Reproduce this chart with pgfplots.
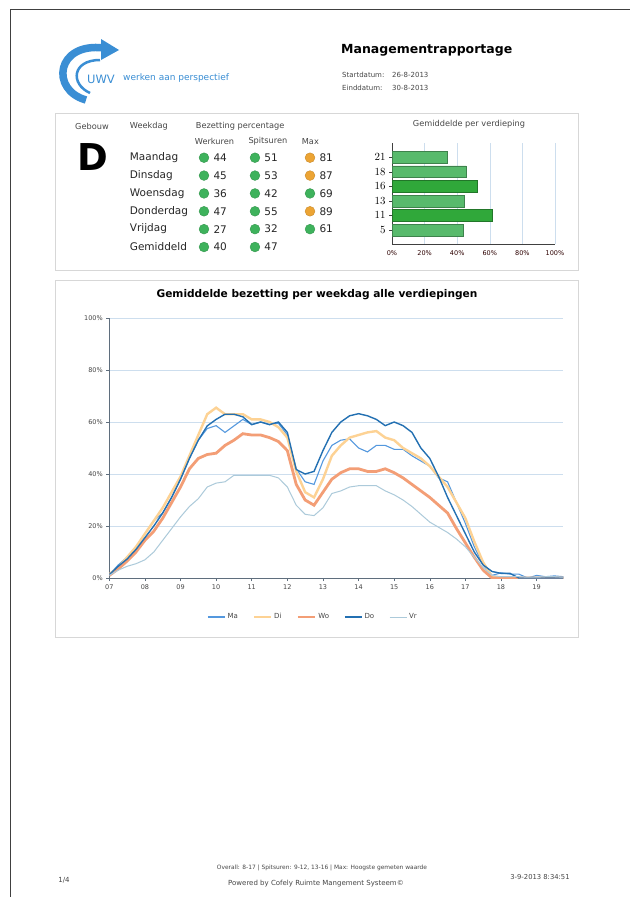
\documentclass[border=0pt]{standalone}
\usepackage{pgfplots}
\pgfplotsset{compat=1.18}
\usepackage{fontspec}
\setmainfont{DejaVu Sans}
\definecolor{cma}{RGB}{84,152,222}
\definecolor{cdi}{RGB}{253,210,148}
\definecolor{cwo}{RGB}{243,158,118}
\definecolor{cdo}{RGB}{35,112,178}
\definecolor{cvr}{RGB}{172,202,218}
\definecolor{gridb}{RGB}{205,222,238}
\definecolor{axisc}{RGB}{95,110,125}
\definecolor{txtg}{RGB}{70,70,70}
\definecolor{dotg}{RGB}{62,178,92}
\definecolor{doto}{RGB}{236,164,52}
\definecolor{barl}{RGB}{88,186,108}
\definecolor{bard}{RGB}{48,168,58}
\definecolor{uwv}{RGB}{58,142,212}
\definecolor{boxc}{RGB}{215,215,215}
\newcommand\fs[1]{\fontsize{#1bp}{#1bp}\selectfont}

\pgfplotstableread{
x ma di wo do vr
7.00 1.3 1.5 1.0 1.3 1.0
7.25 5.0 4.0 3.5 4.5 3.0
7.50 8.0 8.0 6.5 7.3 4.5
7.75 12.0 12.0 10.0 11.0 5.5
8.00 17.0 17.0 14.5 15.5 7.0
8.25 22.0 22.0 18.0 20.0 10.0
8.50 25.0 27.0 23.0 25.0 14.5
8.75 31.0 33.0 29.0 31.0 19.0
9.00 38.0 39.0 35.0 38.0 23.5
9.25 46.0 47.0 42.0 46.0 27.5
9.50 53.0 55.0 46.0 53.0 30.5
9.75 57.5 63.0 47.5 58.5 35.0
10.00 58.6 65.5 48.0 61.0 36.5
10.25 56.0 63.0 51.0 63.0 37.0
10.50 58.5 63.0 53.0 63.0 39.5
10.75 61.0 63.0 55.5 62.0 39.5
11.00 59.0 61.0 55.0 59.0 39.5
11.25 60.0 61.0 55.0 60.0 39.5
11.50 59.0 60.0 54.0 59.0 39.5
11.75 59.5 58.0 52.5 60.0 38.5
12.00 55.0 54.0 49.0 56.0 35.0
12.25 42.0 41.0 36.0 41.7 28.0
12.50 37.0 33.0 30.0 40.0 24.5
12.75 36.0 31.0 28.0 41.0 24.0
13.00 45.0 38.0 33.0 49.0 27.0
13.25 51.0 47.0 38.0 56.0 32.5
13.50 53.0 51.0 40.5 60.0 33.5
13.75 53.5 54.0 42.0 62.4 35.0
14.00 50.0 55.0 42.0 63.2 35.5
14.25 48.5 56.0 41.0 62.4 35.5
14.50 51.0 56.5 41.0 61.0 35.5
14.75 51.0 54.0 42.0 58.6 33.5
15.00 49.5 53.0 40.5 60.0 32.0
15.25 49.5 50.0 38.5 58.6 30.0
15.50 47.0 48.0 36.0 56.0 27.5
15.75 45.0 46.0 33.5 50.0 24.5
16.00 43.0 43.0 31.0 46.0 21.5
16.25 38.5 39.0 28.0 39.0 19.5
16.50 37.0 35.0 25.0 31.0 17.5
16.75 29.0 29.0 19.0 24.0 15.0
17.00 21.0 23.0 13.5 17.0 12.0
17.25 12.0 14.0 8.0 10.0 8.0
17.50 5.0 6.0 3.0 5.0 4.0
17.75 1.0 0.5 0.0 2.5 1.0
18.00 2.0 0.0 0.0 1.8 0.5
18.25 1.5 0.0 0.0 1.8 0.5
18.50 1.5 0.0 0.0 0.0 0.5
18.75 0.0 0.0 0.0 0.0 0.3
19.00 1.0 0.0 0.0 0.0 0.3
19.25 0.5 0.0 0.0 0.0 0.5
19.50 0.8 0.0 0.0 0.0 0.5
19.75 0.5 0.0 0.0 0.0 0.3
}\linedata

\begin{document}
\begin{tikzpicture}
\path[use as bounding box] (0,0) rectangle (630bp,-897bp);
\fill[white] (0,0) rectangle (630bp,-897bp);
\begin{scope}[x=1bp,y=-1bp]
% page frame
\draw[black!75, line width=0.7bp] (10.5,897) -- (10.5,9.5) -- (630,9.5);
% logo
\draw[uwv, line width=7.5bp] (86,100) .. controls (50,90) and (56,42) .. (104,48);
\fill[uwv] (101,39) -- (119,50) -- (101,60) -- cycle;
\draw[uwv, line width=2.5bp] (90,93) .. controls (70,84) and (72,60) .. (100,60);
\node[anchor=west, font=\fs{11.5}, text=uwv, inner sep=0] at (87,79) {UWV};
\node[anchor=west, font=\fs{9}, text=uwv, inner sep=0] at (123,78) {werken aan perspectief};
% header
\node[anchor=west, font=\bfseries\fs{12.5}, inner sep=0] at (341,50.5) {Managementrapportage};
\node[anchor=west, font=\fs{7}, text=txtg, inner sep=0] at (342,75) {Startdatum:};
\node[anchor=west, font=\fs{7}, text=txtg, inner sep=0] at (392,75) {26-8-2013};
\node[anchor=west, font=\fs{7}, text=txtg, inner sep=0] at (342,87.5) {Einddatum:};
\node[anchor=west, font=\fs{7}, text=txtg, inner sep=0] at (392,87.5) {30-8-2013};
% boxes
\draw[boxc, line width=0.8bp] (55.5,113.5) rectangle (578,270);
\draw[boxc, line width=0.8bp] (55.5,280.5) rectangle (578,637);
% table headers
\node[anchor=west, font=\fs{8.2}, text=txtg, inner sep=0] at (75,126) {Gebouw};
\node[anchor=west, font=\fs{8.2}, text=txtg, inner sep=0] at (129.7,126) {Weekdag};
\node[anchor=west, font=\fs{8.2}, text=txtg, inner sep=0] at (195.7,126) {Bezetting percentage};
\node[anchor=west, font=\fs{8.2}, text=txtg, inner sep=0] at (194.7,141.7) {Werkuren};
\node[anchor=west, font=\fs{8.2}, text=txtg, inner sep=0] at (248.3,141.7) {Spitsuren};
\node[anchor=west, font=\fs{8.2}, text=txtg, inner sep=0] at (301.7,141.7) {Max};
\node[font=\bfseries\fs{37}, inner sep=0] at (93,157) {D};
\foreach \d/\yy in {Maandag/157.7, Dinsdag/175.6, Woensdag/193.4, Donderdag/211.3, Vrijdag/229.1, Gemiddeld/247}
  {\node[anchor=west, font=\fs{10.5}, text=black!85, inner sep=0] at (129.7,\yy) {\d};}
% bar chart title
\node[font=\fs{8.2}, text=txtg, inner sep=0] at (469,124.5) {Gemiddelde per verdieping};
% line chart title
\node[font=\bfseries\fs{10.6}, inner sep=0] at (317,295) {Gemiddelde bezetting per weekdag alle verdiepingen};
% footer
\node[font=\fs{5.9}, text=txtg, inner sep=0] at (322,868) {Overall: 8-17 | Spitsuren: 9-12, 13-16 | Max: Hoogste gemeten waarde};
\node[font=\fs{7}, text=txtg, inner sep=0] at (316,884) {Powered by Cofely Ruimte Mangement Systeem©};
\node[font=\fs{7}, text=txtg, inner sep=0] at (64,880) {1/4};
\node[font=\fs{6.8}, text=txtg, inner sep=0] at (540,877) {3-9-2013 8:34:51};
\end{scope}

% table indicators
\begin{axis}[at={(257bp,-202.35bp)}, anchor=center, scale only axis,
  width=106bp, height=89.3bp, xmin=1, xmax=3.08, ymin=1, ymax=6, y dir=reverse,
  hide axis, clip=false, point meta=explicit symbolic, nodes near coords,
  every node near coord/.append style={anchor=west, xshift=6bp, yshift=0bp, font=\fs{10.5}, text=black!85}]
\addplot[only marks, mark=*, mark size=4.9bp, mark options={fill=dotg, draw=dotg!85!black}] table[meta=v] {
x y v
1 1 44
1 2 45
1 3 36
1 4 47
1 5 27
1 6 40
2 1 51
2 2 53
2 3 42
2 4 55
2 5 32
2 6 47
3.08 3 69
3.08 5 61
};
\addplot[only marks, mark=*, mark size=4.9bp, mark options={fill=doto, draw=doto!85!black}] table[meta=v] {
x y v
3.08 1 81
3.08 2 87
3.08 4 89
};
\end{axis}

% bar chart
\begin{axis}[at={(392bp,-244bp)}, anchor=south west, scale only axis,
  width=163bp, height=101bp, xbar, bar width=11.7bp,
  xmin=0, xmax=100, ymin=-0.96, ymax=5.98,
  ytick={0,...,5}, yticklabels={$5$,$11$,$13$,$16$,$18$,$21$},
  xtick={0,20,...,100}, xticklabels={0\%,20\%,40\%,60\%,80\%,100\%},
  axis lines*=left, axis line style={black!75, line width=1bp},
  xmajorgrids, major grid style={gridb, line width=0.6bp},
  x tick style={draw=none}, y tick style={black!75, line width=0.6bp},
  major tick length=3bp, tick align=outside,
  yticklabel style={font=\fs{10.5}},
  xticklabel style={font=\fs{6.5}, text=black!70!red!60!black}]
\addplot[fill=barl, draw=barl!70!black, bar shift=0pt] coordinates {(43.8,0) (44.2,2) (45.4,4) (34,5)};
\addplot[fill=bard, draw=bard!70!black, bar shift=0pt] coordinates {(61.2,1) (52.3,3)};
\end{axis}

% line chart
\begin{axis}[at={(109.3bp,-578bp)}, anchor=south west, scale only axis,
  width=454bp, height=260bp, xmin=7, xmax=19.75, ymin=0, ymax=100,
  axis lines*=left, axis line style={axisc, line width=0.9bp},
  xtick={7,...,19}, xticklabels={07,08,09,10,11,12,13,14,15,16,17,18,19},
  ytick={0,20,...,100}, yticklabels={0\%,20\%,40\%,60\%,80\%,100\%},
  ymajorgrids, major grid style={gridb, line width=0.6bp},
  tick style={axisc, line width=0.5bp}, major tick length=3bp, tick align=outside,
  ticklabel style={font=\fs{6.5}, text=txtg},
  legend style={at={(0.449,-0.15)}, anchor=center, draw=none, fill=none,
    font=\fs{7}, text=txtg, legend columns=5,
    /tikz/every even column/.append style={column sep=13bp}},
  legend image code/.code={\draw[#1] (0bp,0bp) -- (17bp,0bp);}]
\addplot[cma, line width=1.1bp] table[x=x, y=ma] {\linedata};
\addplot[cdi, line width=2.4bp] table[x=x, y=di] {\linedata};
\addplot[cwo, line width=2.8bp] table[x=x, y=wo] {\linedata};
\addplot[cdo, line width=1.4bp] table[x=x, y=do] {\linedata};
\addplot[cvr, line width=1bp] table[x=x, y=vr] {\linedata};
\legend{Ma,Di,Wo,Do,Vr}
\end{axis}
\end{tikzpicture}
\end{document}
